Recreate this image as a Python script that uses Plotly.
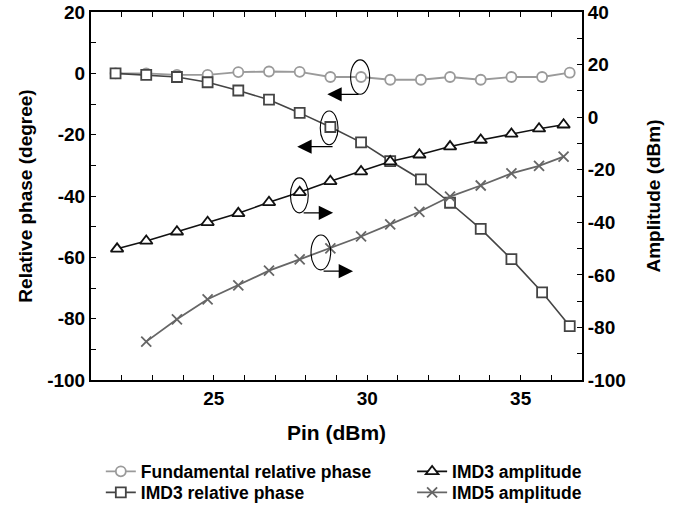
import plotly.graph_objects as go

# ---- data ----
pin_phase = [21.8, 22.8, 23.8, 24.8, 25.8, 26.8, 27.8, 28.8, 29.8, 30.75, 31.75, 32.7, 33.7, 34.7, 35.7, 36.6]
fund_phase = [0, 0, -0.5, -0.5, 0.4, 0.6, 0.5, -1.2, -1.2, -2.1, -2.1, -1.2, -2.1, -1.2, -1.2, 0.2]
imd3_phase = [0, -0.5, -1.2, -2.9, -5.6, -8.6, -12.9, -17.5, -22.5, -28.6, -34.6, -42.2, -50.7, -60.6, -71.4, -82.4]

pin_imd3 = [21.85, 22.8, 23.8, 24.8, 25.8, 26.8, 27.8, 28.8, 29.8, 30.75, 31.7, 32.7, 33.7, 34.7, 35.6, 36.4]
imd3_amp = [-50.1, -47.1, -43.6, -40.0, -36.6, -32.4, -28.6, -24.4, -20.7, -16.9, -14.3, -11.2, -8.7, -6.4, -4.4, -2.9]

pin_imd5 = [22.8, 23.8, 24.8, 25.8, 26.8, 27.8, 28.8, 29.8, 30.75, 31.7, 32.7, 33.7, 34.7, 35.6, 36.4]
imd5_amp = [-85.4, -76.9, -69.3, -64.0, -58.4, -54.1, -49.9, -45.4, -40.8, -36.0, -30.2, -26.0, -21.4, -18.5, -15.0]

x_ticks = [25, 30, 35]
y1_ticks = [20, 0, -20, -40, -60, -80, -100]
y1_labels = ["20", "0", "-20", "-40", "-60", "-80", "-100"]
y2_ticks = [40, 20, 0, -20, -40, -60, -80, -100]
y2_labels = ["40", "20", "0", "-20", "-40", "-60", "-80", "-100"]

FONT = "Liberation Sans"

fig = go.Figure()

fig.add_trace(go.Scatter(
    x=pin_phase, y=fund_phase, name="Fundamental relative phase",
    mode="lines+markers", legend="legend",
    line=dict(color="#9a9a9a", width=1.8),
    marker=dict(symbol="circle", size=10, color="white", line=dict(color="#9a9a9a", width=1.8)),
))
fig.add_trace(go.Scatter(
    x=pin_phase, y=imd3_phase, name="IMD3 relative phase",
    mode="lines+markers", legend="legend2",
    line=dict(color="#444444", width=1.6),
    marker=dict(symbol="square", size=10, color="white", line=dict(color="#444444", width=1.8)),
))
fig.add_trace(go.Scatter(
    x=pin_imd3, y=imd3_amp, name="IMD3 amplitude", yaxis="y2",
    mode="lines+markers", legend="legend3",
    line=dict(color="#111111", width=1.6),
    marker=dict(symbol="triangle-up", size=11, color="white", line=dict(color="#111111", width=1.8)),
))
fig.add_trace(go.Scatter(
    x=pin_imd5, y=imd5_amp, name="IMD5 amplitude", yaxis="y2",
    mode="lines+markers", legend="legend4",
    line=dict(color="#666666", width=1.8),
    marker=dict(symbol="x-thin", size=10, color="#666666", line=dict(color="#666666", width=1.8)),
))

# loops (ellipses) marking each curve and arrows pointing to its axis
loops = [
    (29.77, -1.2, 0.31, 5.6),
    (28.76, -17.8, 0.29, 5.5),
    (27.79, -39.8, 0.29, 5.7),
    (28.49, -58.4, 0.32, 5.7),
]
for cx, cy, rx, ry in loops:
    fig.add_shape(type="circle", xref="x", yref="y",
                  x0=cx - rx, x1=cx + rx, y0=cy - ry, y1=cy + ry,
                  line=dict(color="black", width=1.1))

arrows = [
    ((29.77, -6.85), (28.70, -6.85)),
    ((28.92, -23.9), (27.72, -23.9)),
    ((27.88, -45.5), (28.89, -45.5)),
    ((28.53, -64.5), (29.54, -64.5)),
]
for (tx, ty), (hx, hy) in arrows:
    fig.add_annotation(x=hx, y=hy, ax=tx, ay=ty, xref="x", yref="y",
                       axref="x", ayref="y", text="", showarrow=True,
                       arrowhead=2, arrowsize=2.4, arrowwidth=1.2, arrowcolor="black")

tickfont = dict(family=FONT, size=19, color="black", weight="bold")
titlefont = dict(family=FONT, size=19, color="black", weight="bold")
legfont = dict(family=FONT, size=17.5, color="black", weight="bold")

minor_x = dict(dtick=1, tick0=21, ticks="inside", ticklen=5, tickwidth=1.2, tickcolor="black")
minor_y = dict(dtick=10, ticks="inside", ticklen=5, tickwidth=1.2, tickcolor="black")

def leg(x, y):
    return dict(x=x, y=y, xanchor="left", yanchor="middle", orientation="v",
                font=legfont, bgcolor="rgba(0,0,0,0)", itemwidth=30,
                borderwidth=0)

fig.update_layout(
    width=680, height=508,
    margin=dict(l=91, r=98, t=12, b=128, autoexpand=False),
    paper_bgcolor="white", plot_bgcolor="white",
    font=dict(family=FONT, color="black"),
    xaxis=dict(
        range=[21, 37], tickvals=x_ticks, ticks="inside", ticklen=5, tickwidth=1.2,
        tickcolor="black", showgrid=False, zeroline=False, automargin=False,
        showline=True, linecolor="black", linewidth=2, mirror="ticks",
        minor=minor_x, tickfont=tickfont, ticklabeloverflow="allow",
        title=dict(text="Pin (dBm)", font=dict(family=FONT, size=21, color="black", weight="bold"), standoff=18),
    ),
    yaxis=dict(
        range=[-100, 20], tickvals=y1_ticks, ticktext=y1_labels, ticks="inside", ticklen=5, tickwidth=1.2,
        tickcolor="black", showgrid=False, zeroline=False, automargin=False,
        showline=True, linecolor="black", linewidth=2, ticklabeloverflow="allow",
        minor=minor_y, tickfont=tickfont,
        title=dict(text="Relative phase (degree)", font=titlefont, standoff=10),
    ),
    yaxis2=dict(
        range=[-100, 40], tickvals=y2_ticks, ticktext=y2_labels, overlaying="y", side="right", anchor="x",
        ticks="inside", ticklen=5, tickwidth=1.2, tickcolor="black", automargin=False,
        showgrid=False, zeroline=False, showline=True, linecolor="black", linewidth=2,
        ticklabeloverflow="allow",
        minor=minor_y, tickfont=tickfont,
        title=dict(text="Amplitude (dBm)", font=titlefont, standoff=22),
    ),
    legend=leg(0.02, -0.2486),
    legend2=leg(0.02, -0.3057),
    legend3=leg(0.654, -0.2486),
    legend4=leg(0.654, -0.3057),
    showlegend=True,
)

fig.write_html("out.html", config={"displayModeBar": False},
               post_script="document.body.style.margin='0px';")
